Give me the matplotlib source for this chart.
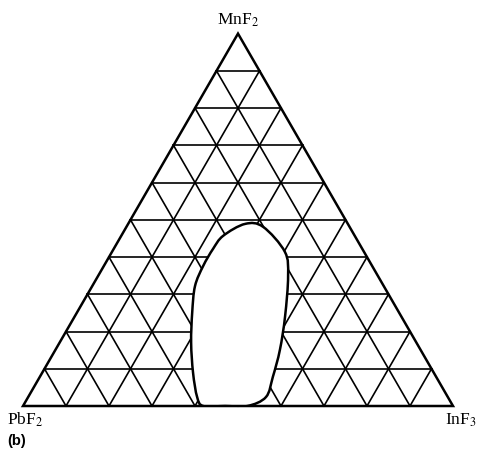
import numpy as np
import matplotlib
matplotlib.use("Agg")
import matplotlib.pyplot as plt
from matplotlib.path import Path
from matplotlib.patches import PathPatch, Polygon

plt.rcParams["mathtext.fontset"] = "stix"

# Corner components
apex_top = "MnF$_2$"
apex_left = "PbF$_2$"
apex_right = "InF$_3$"
panel_tag = "(b)"

# Grid spacing (mole fraction)
grid_levels = [0.1, 0.2, 0.3, 0.4, 0.5, 0.6, 0.7, 0.8, 0.9]

# Glass-forming region boundary (mole fractions of MnF2 and InF3)
region_mnf2 = [0.489, 0.481, 0.414, 0.349, 0.241, 0.151, 0.078, 0.024, 0.0,
               0.0, 0.0, 0.024, 0.089, 0.170, 0.251, 0.322, 0.376, 0.422, 0.457]
region_inf3 = [0.272, 0.318, 0.402, 0.442, 0.489, 0.522, 0.542, 0.553, 0.522,
               0.47, 0.419, 0.393, 0.351, 0.306, 0.268, 0.239, 0.231, 0.231, 0.237]

H = np.sqrt(3) / 2


def to_xy(mn, inf):
    mn = np.asarray(mn, float)
    inf = np.asarray(inf, float)
    return inf + 0.5 * mn, mn * H


fig = plt.figure(figsize=(4.81, 4.54), dpi=100)
ax = fig.add_axes([0, 0, 1, 1])
ax.set_xlim(-23 / 430, 458 / 430)
ax.set_ylim((406 - 454) / 430, 406 / 430)
ax.set_aspect("auto")
ax.axis("off")

# Grid lines of constant composition
for g in grid_levels:
    # constant MnF2
    x, y = to_xy([g, g], [0, 1 - g])
    ax.plot(x, y, color="black", lw=1.2, zorder=1)
    # constant InF3
    x, y = to_xy([0, 1 - g], [g, g])
    ax.plot(x, y, color="black", lw=1.2, zorder=1)
    # constant PbF2
    x, y = to_xy([0, 1 - g], [1 - g, 0])
    ax.plot(x, y, color="black", lw=1.2, zorder=1)

# Outer triangle
tx, ty = to_xy([1, 0, 0], [0, 0, 1])
tri = Polygon(np.column_stack([tx, ty]), closed=True, fill=False,
              edgecolor="black", lw=1.8, zorder=3, joinstyle="miter")
ax.add_patch(tri)

# Smooth closed boundary (Catmull-Rom as cubic Bezier)
px, py = to_xy(region_mnf2, region_inf3)
pts = np.column_stack([px, py])
n = len(pts)
verts = [pts[0]]
codes = [Path.MOVETO]
for i in range(n):
    p0 = pts[(i - 1) % n]
    p1 = pts[i]
    p2 = pts[(i + 1) % n]
    p3 = pts[(i + 2) % n]
    c1 = p1 + (p2 - p0) / 6
    c2 = p2 - (p3 - p1) / 6
    verts += [c1, c2, p2]
    codes += [Path.CURVE4] * 3
blob = PathPatch(Path(verts, codes), facecolor="white", edgecolor="black",
                 lw=1.8, zorder=2)
ax.add_patch(blob)
clip = Polygon(np.column_stack([tx, ty]), closed=True, transform=ax.transData)
blob.set_clip_path(clip)

serif = ["Liberation Serif", "DejaVu Serif"]
ax.text(0.5, (406 - 25) / 430, apex_top, ha="center", va="baseline",
        fontsize=12.5, family=serif)
ax.text((7 - 23) / 430, (406 - 425) / 430, apex_left, ha="left",
        va="baseline", fontsize=12.5, family=serif)
ax.text((445 - 23) / 430, (406 - 425) / 430, apex_right, ha="left",
        va="baseline", fontsize=12.5, family=serif)
ax.text((7 - 23) / 430, (406 - 445) / 430, panel_tag, ha="left",
        va="baseline", fontsize=10.5, fontweight="bold",
        family=["Liberation Sans", "DejaVu Sans"])

fig.savefig("out.png", dpi=100, facecolor="white")
